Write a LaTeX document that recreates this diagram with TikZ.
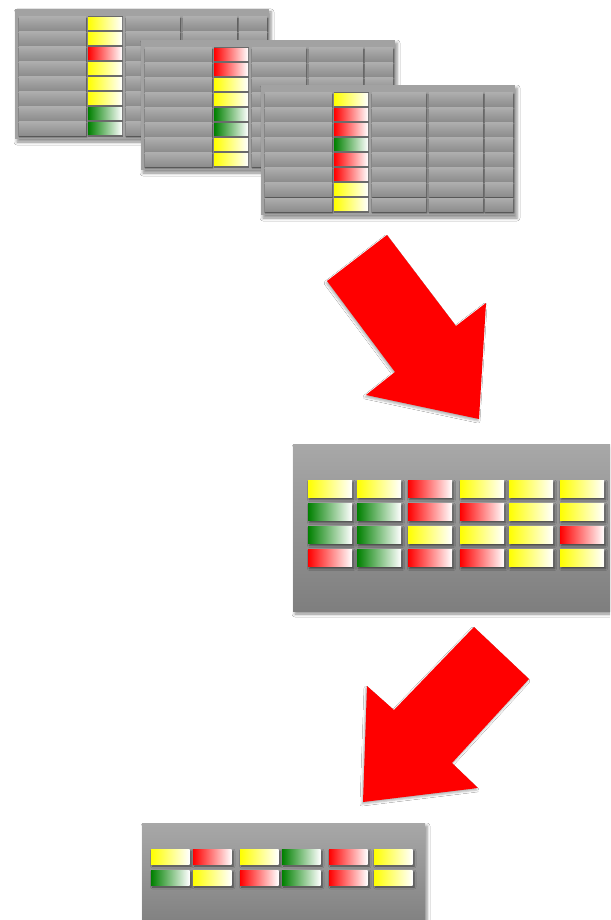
\documentclass[tikz,border=0pt]{standalone}
\usetikzlibrary{shadows.blur}
\definecolor{cy}{HTML}{FFFF00}
\definecolor{cr}{HTML}{FF0000}
\definecolor{cg}{HTML}{008000}
\definecolor{panelgray}{HTML}{A2A2A2}
\definecolor{celltop}{HTML}{ADADAD}
\definecolor{cellbot}{HTML}{8C8C8C}
\definecolor{boxtop}{HTML}{A8A8A8}
\definecolor{boxbot}{HTML}{7E7E7E}
\definecolor{gapgray}{HTML}{6A6A6A}
\tikzset{
  panel/.style={fill=panelgray, blur shadow={shadow xshift=2pt, shadow yshift=-3pt, shadow blur radius=3pt, shadow opacity=45}},
  bigbox/.style={top color=boxtop, bottom color=boxbot, blur shadow={shadow xshift=2pt, shadow yshift=-3pt, shadow blur radius=3pt, shadow opacity=45}},
  gcell/.style={top color=celltop, bottom color=cellbot, blur shadow={shadow xshift=0.6pt, shadow yshift=-1.2pt, shadow blur radius=1pt, shadow opacity=70}},
  tcell/.style={right color=white},
  ccell/.style={right color=white, blur shadow={shadow xshift=1.5pt, shadow yshift=-2pt, shadow blur radius=2pt, shadow opacity=55}},
  bigarrow/.style={fill=cr, blur shadow={shadow xshift=-1pt, shadow yshift=-2pt, shadow blur radius=2pt, shadow opacity=30}},
}
% one small table: grey rows with a single coloured column
\newcommand\datatable[3]{%
  \begin{scope}[shift={(#1,#2)}]
    \path[panel] (0,0) rectangle (254,130);
    \fill[gapgray] (72.5,7.5) rectangle (108,128);
    \foreach \c [count=\i from 0] in {#3} {
      \pgfmathsetmacro\yt{8+15*\i}
      \path[gcell] (4,\yt) rectangle (71,\yt+13.5);
      \path[gcell] (111,\yt) rectangle (165,\yt+13.5);
      \path[gcell] (168,\yt) rectangle (222,\yt+13.5);
      \path[gcell] (224,\yt) rectangle (252,\yt+13.5);
      \path[tcell, left color=\c] (73,\yt+0.6) rectangle (107,\yt+12.8);
    }
  \end{scope}}
\begin{document}
\begin{tikzpicture}[x=1pt,y=-1pt]
\useasboundingbox (0,0) rectangle (610,920);
\clip (0,0) rectangle (610,920);
\fill[white] (0,0) rectangle (610,920);

% three stacked tables
\datatable{15}{9}{cy,cy,cr,cy,cy,cy,cg,cg}
\datatable{141}{40}{cr,cr,cy,cy,cg,cg,cy,cy}
\datatable{261}{85}{cy,cr,cr,cg,cr,cr,cy,cy}

% first arrow
\path[bigarrow] (387,235) -- (327,281) -- (395,372) -- (366,395) -- (479,419) -- (486,303) -- (456,326) -- cycle;

% combined grid
\path[bigbox] (293,444) rectangle (625,611);
\foreach \row [count=\r from 0] in {{cy,cy,cr,cy,cy,cy},{cg,cg,cr,cr,cy,cy},{cg,cg,cy,cy,cy,cr},{cr,cg,cr,cr,cy,cy}} {
  \pgfmathsetmacro\yt{{480,503,526,549}[\r]}
  \foreach \c [count=\k from 0] in \row {
    \pgfmathsetmacro\xl{{308,357,408,460,509,560}[\k]}
    \path[ccell, left color=\c] (\xl,\yt) rectangle (\xl+44,\yt+17.5);
  }
}

% second arrow
\path[bigarrow] (474,627) -- (529,679) -- (452,763) -- (478,788) -- (363,802) -- (367,686) -- (394,710) -- cycle;

% reduced grid
\path[bigbox] (142,823) rectangle (425,930);
\foreach \row [count=\r from 0] in {{cy,cr,cy,cg,cr,cy},{cg,cy,cr,cg,cr,cy}} {
  \pgfmathsetmacro\yt{{849,870}[\r]}
  \foreach \c [count=\k from 0] in \row {
    \pgfmathsetmacro\xl{{151,193,240,282,329,374}[\k]}
    \path[ccell, left color=\c] (\xl,\yt) rectangle (\xl+38.5,\yt+15);
  }
}
\end{tikzpicture}
\end{document}
